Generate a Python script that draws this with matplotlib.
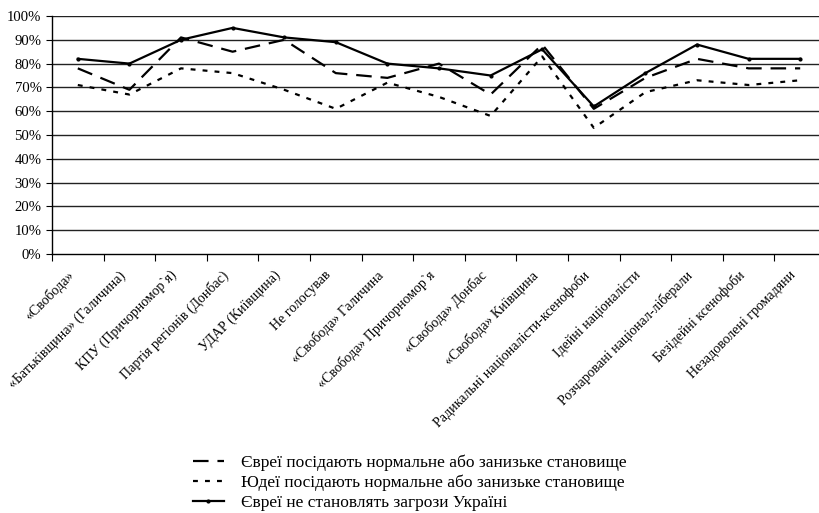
import matplotlib
matplotlib.use('Agg')
import matplotlib.pyplot as plt
import matplotlib.transforms as mtransforms
import numpy as np

plt.rcParams['font.family'] = ['Liberation Serif', 'DejaVu Serif']

# Categories (x axis)
categories = [
    '«Свобода»',
    '«Батьківщина» (Галичина)',
    'КПУ (Причорномор`я)',
    'Партія регіонів (Донбас)',
    'УДАР (Київщина)',
    'Не голосував',
    '«Свобода» Галичина',
    '«Свобода» Причорномор`я',
    '«Свобода» Донбас',
    '«Свобода» Київщина',
    'Радикальні націоналісти-ксенофоби',
    'Ідейні націоналісти',
    'Розчаровані націонал-ліберали',
    'Безідейні ксенофоби',
    'Незадоволені громадяни',
]

# Series values (%)
jews_normal = [78, 69, 91, 85, 90, 76, 74, 80, 67, 88, 61, 74, 82, 78, 78]
judeans_normal = [71, 67, 78, 76, 69, 61, 72, 66, 58, 83, 53, 68, 73, 71, 73]
no_threat = [82, 80, 90, 95, 91, 89, 80, 78, 75, 86, 62, 76, 88, 82, 82]

labels = [
    'Євреї посідають нормальне або занизьке становище',
    'Юдеї посідають нормальне або занизьке становище',
    'Євреї не становлять загрози Україні',
]
y_ticks = list(range(0, 101, 10))

fig = plt.figure(figsize=(8.2, 5.13), dpi=100)
W, H = 820, 513
left, right, top, bottom = 52, 826, 16, 254
ax = fig.add_axes([left / W, 1 - bottom / H, (right - left) / W, (bottom - top) / H])

x = np.arange(len(categories))
l1, = ax.plot(x, jews_normal, color='black', lw=1.6, dashes=(7, 4))
l2, = ax.plot(x, judeans_normal, color='black', lw=1.6, dashes=(2.2, 3.2))
l3, = ax.plot(x, no_threat, color='black', lw=1.6, marker='o', ms=2)

ax.set_xlim(-0.5, len(categories) - 0.5)
ax.set_ylim(0, 100)
ax.set_yticks(y_ticks)
ax.set_yticklabels([f'{v}%' for v in y_ticks], fontsize=10.6)
for v in y_ticks[1:]:
    ax.axhline(v, color='#222222', lw=1, zorder=0)

ax.set_xticks(np.arange(len(categories) + 1) - 0.5)
ax.set_xticklabels([])
ax.set_xticks(x, minor=True)
ax.set_xticklabels(categories, minor=True, rotation=45, ha='right',
                   rotation_mode='anchor', fontsize=10)
ax.tick_params(axis='x', which='minor', length=0, pad=4)
ax.tick_params(axis='x', which='major', length=5, direction='out')
ax.tick_params(axis='y', length=4, direction='out', pad=3.5)

# nudge the slanted labels down-left along their direction
shift = mtransforms.ScaledTranslation(-11 / 100, -9 / 100, fig.dpi_scale_trans)
for lbl in ax.get_xticklabels(minor=True):
    lbl.set_transform(lbl.get_transform() + shift)

for s in ['top', 'right']:
    ax.spines[s].set_visible(False)
ax.spines['left'].set_linewidth(1)
ax.spines['bottom'].set_linewidth(1)

fig.legend([l1, l2, l3], labels, loc='upper left',
           bbox_to_anchor=(177 / W, 1 - 439 / H), frameon=False,
           fontsize=12.5, handlelength=1.8, labelspacing=0.22, handletextpad=1.0)

fig.savefig('out.png', dpi=100)
